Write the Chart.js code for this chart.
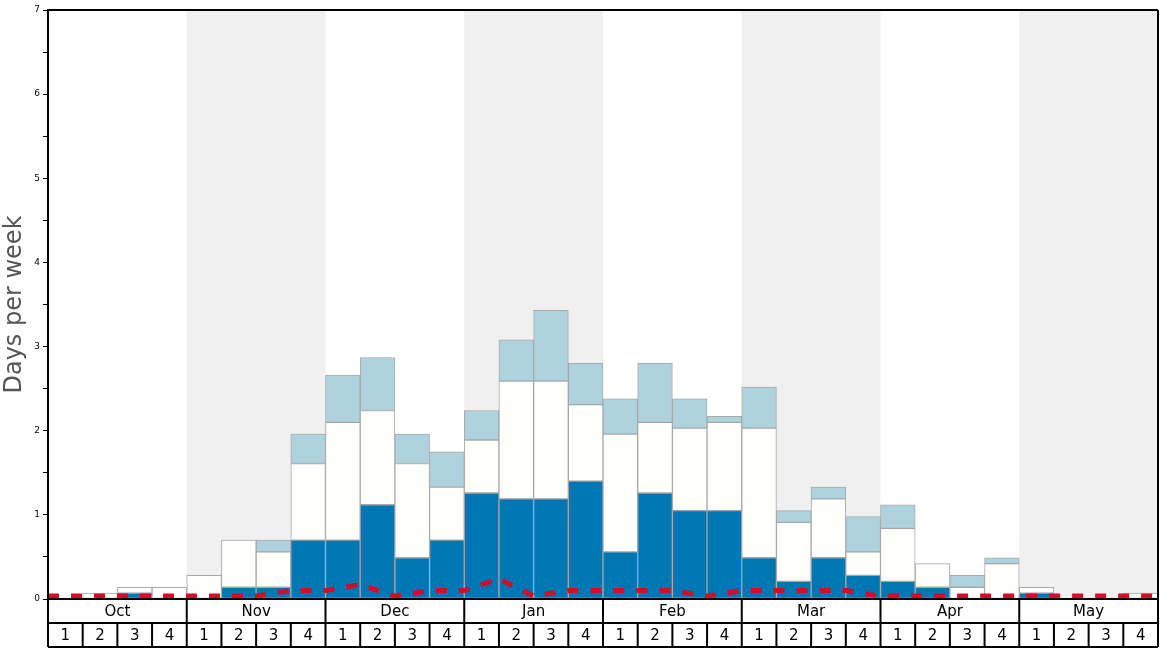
<!DOCTYPE html>
<html>
<head>
<meta charset="utf-8">
<script src="https://cdn.jsdelivr.net/npm/chart.js@4/dist/chart.umd.min.js"></script>
<style>
html,body{margin:0;padding:0;background:#fff;}
#wrap{width:1168px;height:648px;}
</style>
</head>
<body>
<div id="wrap"><canvas id="c" width="1168" height="648"></canvas></div>
<script>
const months = ['Oct','Nov','Dec','Jan','Feb','Mar','Apr','May'];
const weekNums = ['1','2','3','4'];
const shadedMonths = ['Nov','Jan','Mar','May'];

// segment heights (days per week), bottom to top
const darkBlue = [0,0,0.07,0, 0,0.14,0.14,0.70, 0.70,1.12,0.49,0.70, 1.26,1.19,1.19,1.40,
                  0.56,1.26,1.05,1.05, 0.49,0.21,0.49,0.28, 0.21,0.14,0,0, 0.07,0,0,0];
const white    = [0,0.07,0.07,0.14, 0.28,0.56,0.42,0.91, 1.40,1.12,1.12,0.63, 0.63,1.40,1.40,0.91,
                  1.40,0.84,0.98,1.05, 1.54,0.70,0.70,0.28, 0.63,0.28,0.14,0.42, 0.07,0,0,0.07];
const lightBlue= [0,0,0,0, 0,0,0.14,0.35, 0.56,0.63,0.35,0.42, 0.35,0.49,0.84,0.49,
                  0.42,0.70,0.35,0.07, 0.49,0.14,0.14,0.42, 0.28,0,0.14,0.07, 0,0,0,0];
// red dashed line, one value per week boundary (33)
const redLine  = [0.035,0.035,0.035,0.035,0.035,0.035,0.035,0.10,0.10,0.17,0.035,0.10,0.10,0.24,0.035,0.10,
                  0.10,0.10,0.10,0.035,0.10,0.10,0.10,0.10,0.035,0.035,0.035,0.035,0.035,0.035,0.035,0.035,0.035];

const categories = [];
months.forEach(m => weekNums.forEach(w => categories.push(m + ' ' + w)));
const nz = a => a.map(v => v === 0 ? null : v);

const barCommon = {
  type: 'bar', xAxisID: 'x', yAxisID: 'y', order: 2, grouped: false,
  borderColor: 'rgba(160,160,160,0.9)', borderWidth: 1, borderSkipped: false,
  barPercentage: 1, categoryPercentage: 1
};

const decor = {
  id: 'decor',
  beforeDatasetsDraw(chart) {
    const ctx = chart.ctx, a = chart.chartArea, xs = chart.scales.x2;
    ctx.save();
    ctx.fillStyle = '#f0f0f0';
    months.forEach((m, mi) => {
      if (shadedMonths.includes(m)) {
        const x0 = xs.getPixelForValue(mi * 4), x1 = xs.getPixelForValue(mi * 4 + 4);
        ctx.fillRect(x0, a.top, x1 - x0, a.bottom - a.top);
      }
    });
    ctx.restore();
  },
  afterDraw(chart) {
    const ctx = chart.ctx, a = chart.chartArea, xs = chart.scales.x2;
    const rowH = 24, y0 = a.bottom, y1 = y0 + rowH, y2 = y1 + rowH;
    ctx.save();
    ctx.strokeStyle = '#000';
    ctx.lineWidth = 2;
    ctx.beginPath();
    ctx.moveTo(a.left, a.top); ctx.lineTo(a.right, a.top);
    ctx.moveTo(a.right, a.top); ctx.lineTo(a.right, y2);
    ctx.moveTo(a.left, a.top); ctx.lineTo(a.left, y2);
    [y0, y1, y2].forEach(y => { ctx.moveTo(a.left, y); ctx.lineTo(a.right, y); });
    months.forEach((m, mi) => {
      const xm = xs.getPixelForValue(mi * 4);
      ctx.moveTo(xm, y0); ctx.lineTo(xm, y1);
    });
    for (let i = 0; i < categories.length; i++) {
      const xw = xs.getPixelForValue(i);
      ctx.moveTo(xw, y1); ctx.lineTo(xw, y2);
    }
    ctx.stroke();
    ctx.fillStyle = '#000';
    ctx.textAlign = 'center';
    ctx.textBaseline = 'middle';
    ctx.font = '15px "DejaVu Sans"';
    months.forEach((m, mi) => {
      const xc = (xs.getPixelForValue(mi * 4) + xs.getPixelForValue(mi * 4 + 4)) / 2;
      ctx.fillText(m, xc, y0 + rowH / 2 + 1);
      weekNums.forEach((w, wi) => {
        const i = mi * 4 + wi;
        const xw = (xs.getPixelForValue(i) + xs.getPixelForValue(i + 1)) / 2;
        ctx.fillText(w, xw, y1 + rowH / 2 + 1);
      });
    });
    ctx.restore();
  }
};

new Chart(document.getElementById('c'), {
  data: {
    labels: categories,
    datasets: [
      Object.assign({}, barCommon, { label: 'dark', data: nz(darkBlue), backgroundColor: '#0077b5' }),
      Object.assign({}, barCommon, { label: 'white', data: nz(white), backgroundColor: '#fefefc' }),
      Object.assign({}, barCommon, { label: 'light', data: nz(lightBlue), backgroundColor: '#aed3df' }),
      {
        type: 'line', label: 'red', xAxisID: 'x2', yAxisID: 'y', order: 0,
        data: redLine.map((v, i) => ({ x: i, y: v })),
        borderColor: '#d10d2a', borderWidth: 5, borderDash: [11, 12],
        pointRadius: 0, tension: 0, fill: false, clip: false
      }
    ]
  },
  options: {
    responsive: false, animation: false,
    devicePixelRatio: 1,
    layout: { padding: { top: 10, right: 10, bottom: 49, left: 0 } },
    plugins: { legend: { display: false }, tooltip: { enabled: false } },
    scales: {
      x: { type: 'category', stacked: true, offset: true, display: false },
      x2: { type: 'linear', min: 0, max: categories.length, display: false },
      y: {
        stacked: true, min: 0, max: 7,
        afterFit(s) { s.width = 48; },
        ticks: {
          stepSize: 0.5, autoSkip: false, padding: 3, color: '#000',
          font: { family: 'DejaVu Sans', size: 9 },
          callback: v => (v % 1 === 0 ? String(v) : '')
        },
        grid: { drawOnChartArea: false, drawTicks: true, tickLength: 5, color: '#000', lineWidth: 1 },
        border: { display: true, color: '#000', width: 2 },
        title: {
          display: true, text: 'Days per week', color: '#555',
          font: { family: 'DejaVu Sans', size: 24 }, padding: { top: 0, bottom: 0 }
        }
      }
    }
  },
  plugins: [decor]
});
</script>
</body>
</html>
